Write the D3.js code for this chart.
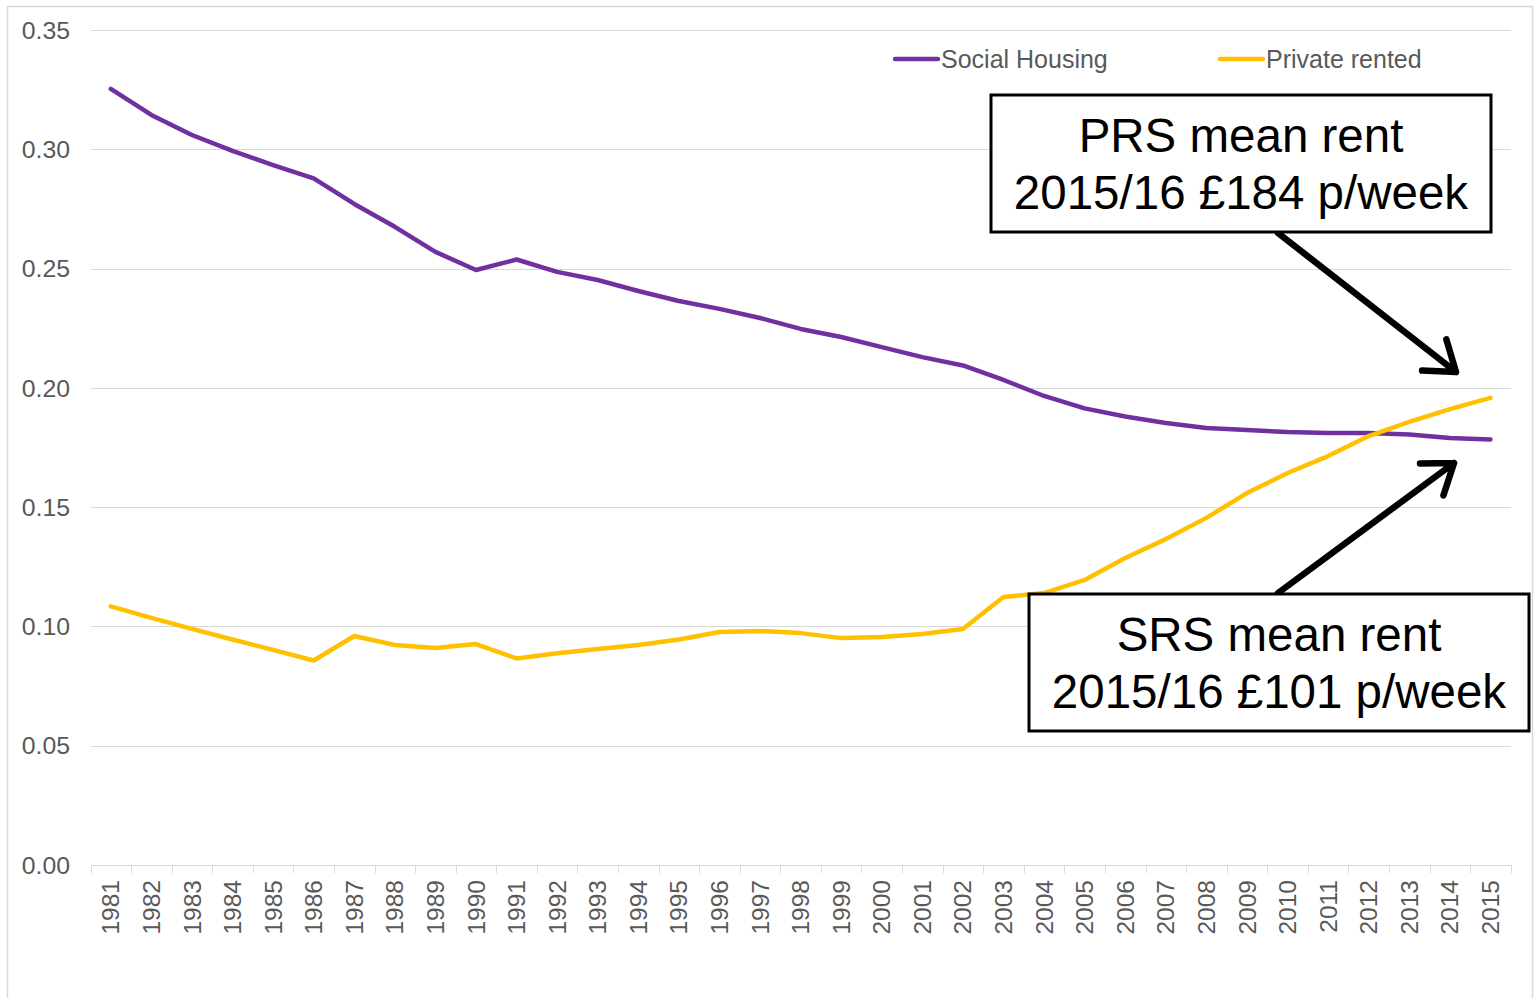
<!DOCTYPE html>
<meta charset="utf-8">
<title>Rent share chart</title>
<style>
body { margin: 0; background: #fff; font-family: Arial, "Liberation Sans", sans-serif; }
.grid line { stroke: #d9d9d9; stroke-width: 1; shape-rendering: crispEdges; }
.tick-label { fill: #595959; font-size: 24.5px; }
.series { fill: none; stroke-width: 4.5; stroke-linejoin: round; stroke-linecap: round; }
.note rect { fill: #fff; stroke: #000; stroke-width: 3; }
.note text { fill: #000; font-size: 47.5px; text-anchor: middle; }
.arrow { stroke: #000; stroke-width: 6.5; stroke-linecap: round; stroke-linejoin: round; fill: none; }
</style>
<body>
<script src="https://cdn.jsdelivr.net/npm/d3@7"></script>
<script>

// data
var years = d3.range(1981, 2016).map(String);
var socialHousing = [0.3253, 0.3144, 0.3060, 0.2993, 0.2934, 0.2878, 0.2771, 0.2675, 0.2570, 0.2494,
                     0.2538, 0.2486, 0.2452, 0.2406, 0.2364, 0.2331, 0.2293, 0.2247, 0.2213, 0.2171,
                     0.2129, 0.2094, 0.2033, 0.1966, 0.1914, 0.1880, 0.1853, 0.1832, 0.1823, 0.1815,
                     0.1811, 0.1811, 0.1804, 0.1790, 0.1784];
var privateRented = [0.1084, 0.1036, 0.0990, 0.0945, 0.0902, 0.0857, 0.0960, 0.0922, 0.0910, 0.0926,
                     0.0866, 0.0888, 0.0905, 0.0922, 0.0945, 0.0977, 0.0981, 0.0972, 0.0951, 0.0956,
                     0.0968, 0.0989, 0.1123, 0.1140, 0.1195, 0.1287, 0.1366, 0.1455, 0.1559, 0.1643,
                     0.1714, 0.1798, 0.1857, 0.1911, 0.1958];
var yTicks = [0, 0.05, 0.10, 0.15, 0.20, 0.25, 0.30, 0.35];
var seriesNames = ["Social Housing", "Private rented"];
var seriesColors = ["#7030a0", "#ffc000"];
var notes = [["PRS mean rent", "2015/16 £184 p/week"], ["SRS mean rent", "2015/16 £101 p/week"]];

var width = 1537, height = 998;

var svg = d3.select("body").append("svg")
    .attr("width", width)
    .attr("height", height);

// outer frame
svg.append("rect")
    .attr("x", 7.5).attr("y", 6.5)
    .attr("width", 1525).attr("height", 1000)
    .attr("fill", "none")
    .attr("stroke", "#d9d9d9")
    .attr("stroke-width", 1.5);

var x = d3.scaleBand().domain(years).range([90.5, 1510.7]);
var y = d3.scaleLinear().domain([0, 0.35]).range([865, 30]);
var cx = function(d) { return x(d) + x.bandwidth() / 2; };

// gridlines
svg.append("g").attr("class", "grid")
    .selectAll("line").data(yTicks).enter().append("line")
    .attr("x1", x.range()[0]).attr("x2", x.range()[1])
    .attr("y1", function(d) { return Math.round(y(d)) + 0.5; })
    .attr("y2", function(d) { return Math.round(y(d)) + 0.5; });

// y labels
svg.append("g").selectAll("text").data(yTicks).enter().append("text")
    .attr("class", "tick-label")
    .attr("x", 70)
    .attr("y", function(d) { return y(d); })
    .attr("dy", "0.35em")
    .attr("text-anchor", "end")
    .style("font-size", "24.8px")
    .text(d3.format(".2f"));

// x axis tick marks at category boundaries
var bounds = years.map(function(d) { return x(d); }).concat([x.range()[1]]);
svg.append("g").attr("class", "grid")
    .selectAll("line").data(bounds).enter().append("line")
    .attr("x1", function(d) { return Math.round(d) + 0.5; })
    .attr("x2", function(d) { return Math.round(d) + 0.5; })
    .attr("y1", 865).attr("y2", 873);

// x labels, rotated
svg.append("g").selectAll("text").data(years).enter().append("text")
    .attr("class", "tick-label")
    .attr("transform", function(d) { return "translate(" + cx(d) + ",880) rotate(-90)"; })
    .attr("text-anchor", "end")
    .attr("dy", "0.35em")
    .style("font-size", "24.5px")
    .text(function(d) { return d; });

// lines
var line = d3.line()
    .x(function(d, i) { return cx(years[i]); })
    .y(function(d) { return y(d); });

[socialHousing, privateRented].forEach(function(vals, i) {
    svg.append("path")
        .attr("class", "series")
        .attr("stroke", seriesColors[i])
        .attr("d", line(vals));
});

// legend
var legendX = [895, 1220];
seriesNames.forEach(function(name, i) {
    var g = svg.append("g").attr("transform", "translate(" + legendX[i] + ",59)");
    g.append("line")
        .attr("x1", 0).attr("x2", 43)
        .attr("stroke", seriesColors[i])
        .attr("stroke-width", 4.5)
        .attr("stroke-linecap", "round");
    g.append("text")
        .attr("class", "tick-label")
        .attr("x", 46)
        .attr("dy", "0.35em")
        .style("font-size", "25px")
        .text(name);
});

// arrows
function arrow(x1, y1, x2, y2) {
    var a = Math.atan2(y2 - y1, x2 - x1), len = 34, spread = 0.62;
    var p = d3.path();
    p.moveTo(x1, y1); p.lineTo(x2, y2);
    p.moveTo(x2 - len * Math.cos(a - spread), y2 - len * Math.sin(a - spread));
    p.lineTo(x2, y2);
    p.lineTo(x2 - len * Math.cos(a + spread), y2 - len * Math.sin(a + spread));
    svg.append("path").attr("class", "arrow").attr("d", p.toString());
}
arrow(1278, 233, 1456, 372);
arrow(1278, 593, 1454, 463);

// annotation boxes
var boxes = [{x: 991, y: 95}, {x: 1029, y: 594}];
boxes.forEach(function(b, i) {
    var g = svg.append("g").attr("class", "note")
        .attr("transform", "translate(" + b.x + "," + b.y + ")");
    g.append("rect").attr("x", 0).attr("y", 0).attr("width", 500).attr("height", 137);
    g.append("text").attr("x", 250).attr("y", 57).text(notes[i][0]);
    g.append("text").attr("x", 250).attr("y", 114).text(notes[i][1]);
});

</script>
</body>
